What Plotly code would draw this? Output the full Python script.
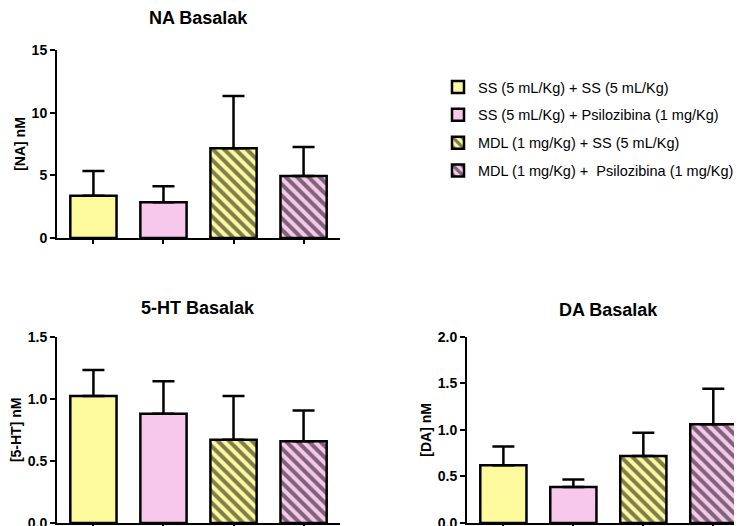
import plotly.graph_objects as go

groups = ["SS (5 mL/Kg) + SS (5 mL/Kg)",
          "SS (5 mL/Kg) + Psilozibina (1 mg/Kg)",
          "MDL (1 mg/Kg) + SS (5 mL/Kg)",
          "MDL (1 mg/Kg) +  Psilozibina (1 mg/Kg)"]
na_mean = [3.37, 2.85, 7.16, 4.95]
na_sem = [1.98, 1.27, 4.17, 2.31]
ht_mean = [1.023, 0.879, 0.670, 0.659]
ht_sem = [0.209, 0.262, 0.353, 0.247]
da_mean = [0.62, 0.386, 0.72, 1.06]
da_sem = [0.20, 0.081, 0.25, 0.38]
panel_titles = ["NA Basalak", "5-HT Basalak", "DA Basalak"]
y_titles = ["[NA] nM", "[5-HT] nM", "[DA] nM"]

fills = ["#FDFA9E", "#F8C8EC", "#FDFA9E", "#F8C8EC"]
hatched = [False, False, True, True]

# page body has an 8px margin; figure sized to fit the 742x526 window
OFF = 8
W, H = 742 - OFF, 526 - OFF
FONT = "Liberation Sans, Arial, sans-serif"

fig = go.Figure()
panels = [("x", "y", na_mean, na_sem), ("x2", "y2", ht_mean, ht_sem), ("x3", "y3", da_mean, da_sem)]
for pi, (xa, ya, means, sems) in enumerate(panels):
    for i, g in enumerate(groups):
        pattern = dict(shape="\\", fgcolor="black", bgcolor=fills[i], size=8, solidity=0.5) if hatched[i] else dict(shape="")
        fig.add_trace(go.Bar(
            x=[i], y=[means[i]], width=0.66, name=g,
            xaxis=xa, yaxis=ya,
            legendgroup=g, showlegend=(pi == 0),
            marker=dict(color=fills[i], line=dict(color="black", width=2.5), pattern=pattern),
            error_y=dict(type="data", symmetric=False, array=[sems[i]], arrayminus=[0],
                         color="black", thickness=2.5, width=11),
        ))

def px_x(p):
    return (p - OFF) / W

def px_y(p):
    return 1 - (p - OFF) / H

axis_common = dict(showline=True, linecolor="black", linewidth=2, showgrid=False, zeroline=False,
                   ticks="outside", tickcolor="black", tickwidth=2, ticklen=5, automargin=False)
xcommon = dict(axis_common, tickvals=[0, 1, 2, 3], showticklabels=False, ticklen=4, tickwidth=1.5)
tickfont = dict(family=FONT, size=14, color="black", weight="bold")
titlefont = dict(family=FONT, size=14, color="black", weight="bold")
ycommon = dict(axis_common, ticklabeloverflow="allow", tickfont=tickfont)

fig.update_layout(
    width=W, height=H,
    margin=dict(l=0, r=0, t=0, b=0, autoexpand=False),
    paper_bgcolor="white", plot_bgcolor="white",
    barmode="overlay",
    xaxis=dict(xcommon, domain=[px_x(57), px_x(340)], range=[-0.52, 3.52], anchor="y"),
    yaxis=dict(ycommon, domain=[px_y(238), px_y(50)], range=[0, 15], tickvals=[0, 5, 10, 15],
               title=dict(text=y_titles[0], font=titlefont, standoff=3), anchor="x"),
    xaxis2=dict(xcommon, domain=[px_x(57), px_x(340)], range=[-0.52, 3.52], anchor="y2"),
    yaxis2=dict(ycommon, domain=[px_y(523), px_y(336.7)], range=[0, 1.5], tickvals=[0, 0.5, 1.0, 1.5],
                tickformat=".1f", title=dict(text=y_titles[1], font=titlefont, standoff=3), anchor="x2"),
    xaxis3=dict(xcommon, domain=[px_x(467), 1.0], range=[-0.52, 3.41], anchor="y3"),
    yaxis3=dict(ycommon, domain=[px_y(523), px_y(336.7)], range=[0, 2.0], tickvals=[0, 0.5, 1.0, 1.5, 2.0],
                tickformat=".1f", title=dict(text=y_titles[2], font=titlefont, standoff=3), anchor="x3"),
    legend=dict(x=px_x(438), y=px_y(71), xanchor="left", yanchor="top",
                font=dict(family=FONT, size=14.5, color="black"),
                traceorder="grouped", tracegroupgap=6, bgcolor="rgba(0,0,0,0)"),
    showlegend=True,
)

title_pos = [(198, 18), (198, 308), (608, 310)]
for t, (tx, ty) in zip(panel_titles, title_pos):
    fig.add_annotation(text=t, x=px_x(tx), y=px_y(ty), xref="paper", yref="paper",
                       xanchor="center", yanchor="middle", showarrow=False,
                       font=dict(family=FONT, size=18, color="black", weight="bold"))

fig.write_html("out.html")
